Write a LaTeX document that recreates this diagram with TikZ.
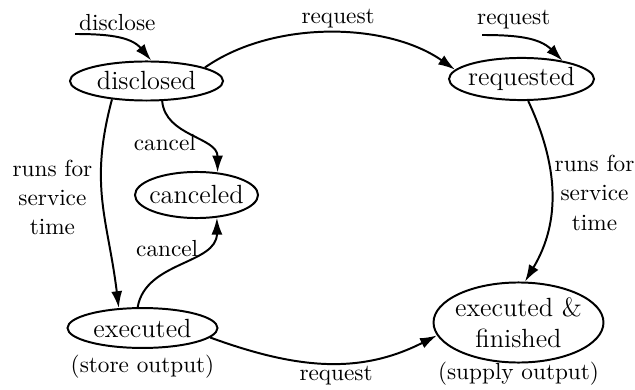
\documentclass[tikz,border=0pt]{standalone}
\usepackage{fontspec}
\usetikzlibrary{arrows.meta,shapes.geometric,positioning}

\tikzset{
  state/.style={ellipse, draw, line width=0.9pt, inner xsep=-5pt, inner ysep=0pt,
    align=center, font=\fontsize{12}{14}\selectfont},
  lbl/.style={inner sep=1pt, align=center, font=\fontsize{10.6}{13.4}\selectfont},
  arr/.style={-{Latex[length=7.7pt,width=5pt]}, line width=0.9pt},
}

\begin{document}
\begin{tikzpicture}[x=0.456pt, y=-0.456pt]
  \useasboundingbox (0,0) rectangle (635,390);
  % states
  \node[state, minimum width=69.8pt, minimum height=17.8pt] (disclosed) at (146.5,81) {disclosed};
  \node[state, minimum width=66.1pt, minimum height=19.2pt] (requested) at (521.5,79) {requested};
  \node[state, minimum width=56.1pt, minimum height=21pt] (canceled) at (196.5,195) {canceled};
  \node[state, minimum width=68.4pt, minimum height=18.2pt] (executed) at (142.5,328) {executed};
  \node[state, minimum width=77.5pt, minimum height=36.5pt] (finished) at (518.5,322.5) {executed \&\\finished};
  \node[lbl] (storeout) at (142.5,367) {(store output)};
  \node[lbl] (supplyout) at (518.5,374) {(supply output)};
  \coordinate (startd) at (75,34);
  \coordinate (startr) at (482,35);
  % transitions
  \path[arr]
  (startd) edge[out=0,in=130] node[lbl,above=2pt] {disclose} (disclosed.77)
  (startr) edge[out=0,in=135] node[lbl,above=2pt,pos=0.35] {request} (requested.24)
  (disclosed.13) edge[out=35,in=145,looseness=0.85] node[lbl,above=1pt,pos=0.53] {request} (requested.172)
  (disclosed.208) edge[out=255,in=97,looseness=1.1] node[lbl,left=3pt,pos=0.47] {runs for\\service\\time} (executed.140)
  (disclosed.308) edge[out=275,in=90] node[lbl,left,pos=0.6] {cancel} (canceled.47)
  (executed.103) edge[out=80,in=270] node[lbl,left,pos=0.7] {cancel} (canceled.312)
  (requested.287) edge[out=295,in=59] node[lbl,right] {runs for\\service\\time} (finished.81)
  (executed.352) edge[out=340,in=207] node[lbl,below,pos=0.55] {request} (finished.189)
  ;
\end{tikzpicture}
\end{document}
